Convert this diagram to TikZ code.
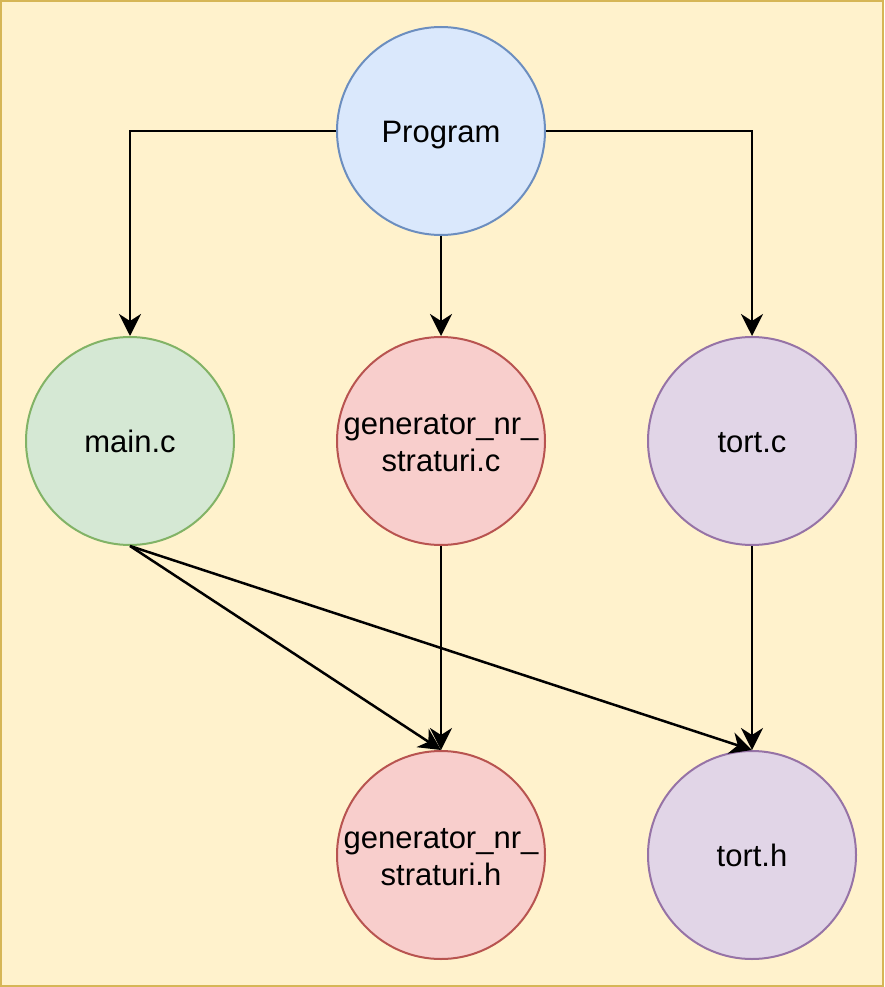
\documentclass[tikz,border=0pt]{standalone}
\usepackage{fontspec}
\setmainfont{Liberation Sans}
\usetikzlibrary{arrows.meta}
\definecolor{bgfill}{HTML}{FFF2CC}
\definecolor{bgline}{HTML}{D6B656}
\definecolor{bluefill}{HTML}{DAE8FC}
\definecolor{blueline}{HTML}{6C8EBF}
\definecolor{greenfill}{HTML}{D5E8D4}
\definecolor{greenline}{HTML}{82B366}
\definecolor{redfill}{HTML}{F8CECC}
\definecolor{redline}{HTML}{B85450}
\definecolor{purplefill}{HTML}{E1D5E7}
\definecolor{purpleline}{HTML}{9673A6}
\newcommand\lnstrut{\rule[-6.3pt]{0pt}{36pt}}
\tikzset{
  circ/.style={circle, minimum size=208pt, inner sep=0pt, line width=2pt, align=center,
    font=\fontsize{31}{36}\selectfont},
  bluec/.style={circ, draw=blueline, fill=bluefill},
  greenc/.style={circ, draw=greenline, fill=greenfill},
  redc/.style={circ, draw=redline, fill=redfill},
  purplec/.style={circ, draw=purpleline, fill=purplefill},
  conn/.style={line width=2.5pt, -{Stealth[length=22pt, width=22pt, inset=7pt]}}
}
\begin{document}
\begin{tikzpicture}[x=1pt, y=-1pt]
\useasboundingbox (0,0) rectangle (884,987);
\draw[bgline, fill=bgfill, line width=2pt] (1,1) rectangle (883,986);
\node[bluec] (prog) at (441,131) {\lnstrut Program};
\node[greenc] (main) at (130,441) {\lnstrut main.c};
\node[redc] (genc) at (441,441) {\lnstrut generator\_nr\_\\\lnstrut straturi.c};
\node[purplec] (tortc) at (752,441) {\lnstrut tort.c};
\node[redc] (genh) at (441,855) {\lnstrut generator\_nr\_\\\lnstrut straturi.h};
\node[purplec] (torth) at (752,855) {\lnstrut tort.h};
\draw[conn] (prog.west) -| (main.north);
\draw[conn] (prog.south) -- (genc.north);
\draw[conn] (prog.east) -| (tortc.north);
\draw[conn] (genc.south) -- (genh.north);
\draw[conn] (tortc.south) -- (torth.north);
\draw[conn] (main.south) -- (genh.north);
\draw[conn] (main.south) -- (torth.north);
\end{tikzpicture}
\end{document}
